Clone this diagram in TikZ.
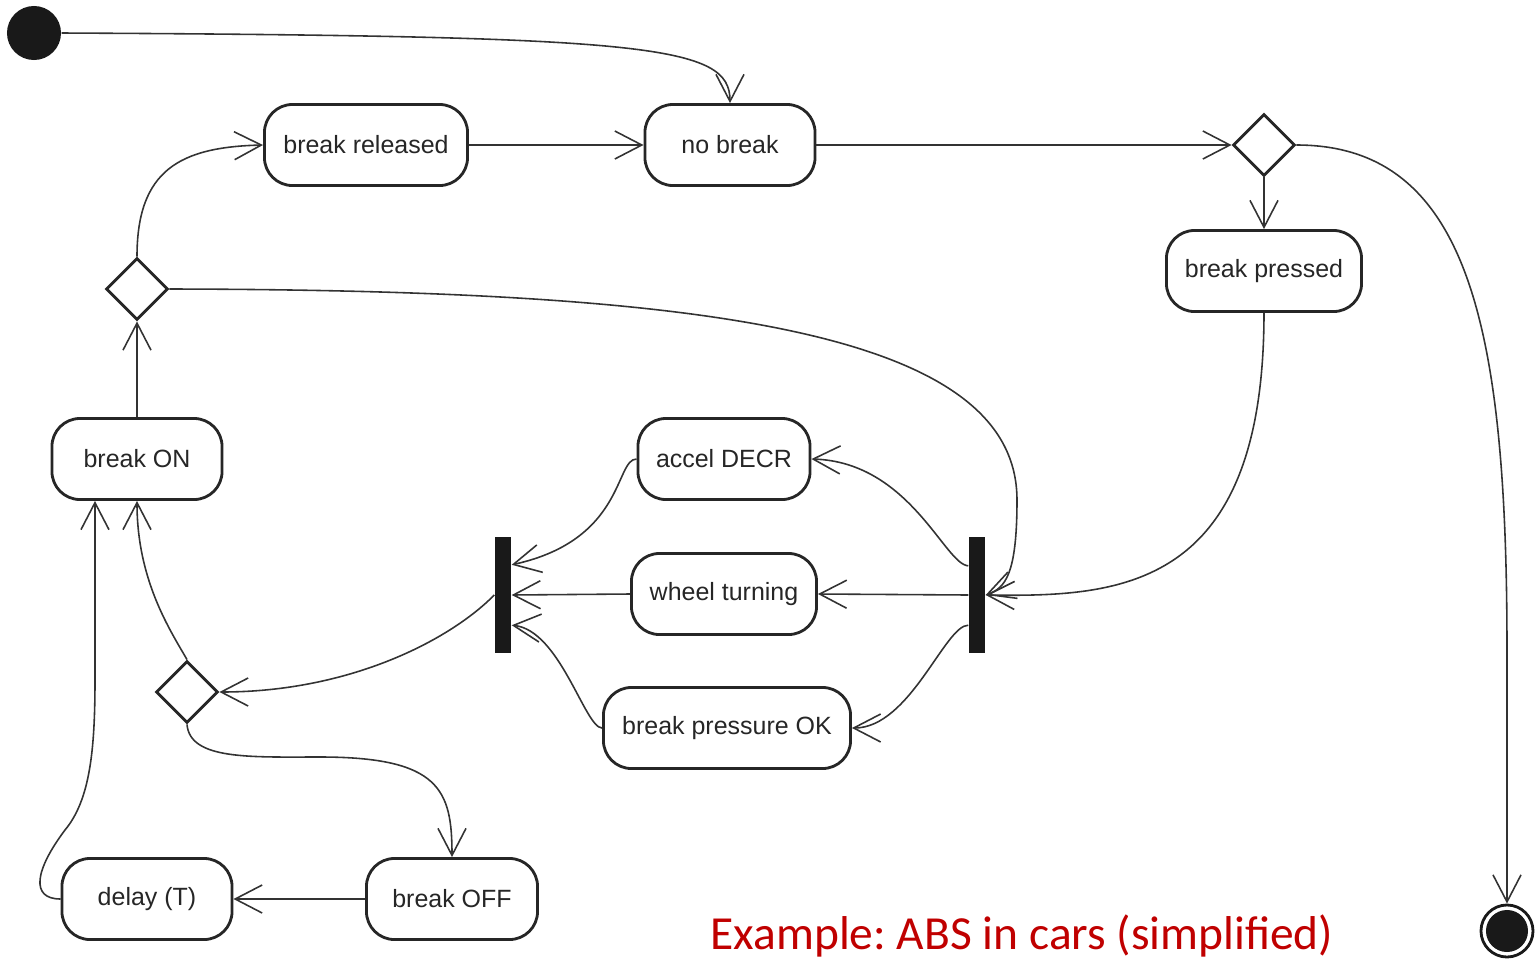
\documentclass[tikz,border=0pt]{standalone}
\usepackage{fontspec}
\setmainfont{Liberation Sans}
\newfontfamily\capfont{Carlito}
\usetikzlibrary{arrows.meta,shapes.geometric}
\definecolor{capred}{RGB}{192,0,0}

\begin{document}
\begin{tikzpicture}[x=0.01cm, y=-0.01cm,
  state/.style={draw=black!85, line width=0.8pt, rounded corners=0.28cm,
    minimum height=0.81cm, inner sep=0pt, text=black!85,
    font=\fontsize{7.1}{8}\selectfont},
  choice/.style={draw=black!85, line width=0.8pt, diamond, aspect=1,
    minimum size=0.62cm, inner sep=0pt},
  bar/.style={fill=black!90, minimum width=0.16cm, minimum height=1.15cm,
    inner sep=0pt},
  flow/.style={draw=black!80, line width=0.45pt,
    -{Straight Barb[length=0.27cm, width=0.28cm]}}]
  \useasboundingbox (0,0) rectangle (1538,960);
  \node [circle, fill=black!90, minimum size=0.54cm, inner sep=0pt] (init) at (34,33) {};
  \node [state, minimum width=2.03cm] (rel) at (366,145) {break released};
  \node [state, minimum width=1.70cm] (nob) at (730,145) {no break};
  \node [choice] (dec1) at (1264,145) {};
  \node [state, minimum width=1.95cm] (prs) at (1264,271) {break pressed};
  \node [choice] (dec2) at (137,289) {};
  \node [state, minimum width=1.70cm] (on) at (137,459) {break ON};
  \node [state, minimum width=1.72cm] (acc) at (724,459) {accel DECR};
  \node [state, minimum width=1.85cm] (whl) at (724,594) {wheel turning};
  \node [state, minimum width=2.47cm] (pok) at (727,728) {break pressure OK};
  \node [bar] (join) at (503,595) {};
  \node [bar] (fork) at (977,595) {};
  \node [choice] (dec3) at (187,692) {};
  \node [state, minimum width=1.71cm] (off) at (452,899) {break OFF};
  \node [state, minimum width=1.70cm] (dly) at (147,899) {delay (T)};
  \node [circle, draw=black!90, line width=0.8pt, minimum size=0.52cm, inner sep=0pt] (fin) at (1507,931) {};
  \fill [black!90] (fin.center) circle (0.21cm);
  \node [font=\capfont\fontsize{13.5}{16}\selectfont, text=capred] (cap) at (1022,936) {Example:\ ABS in cars (simplified)};

  \path []
  (rel.east) edge [flow] (nob.west)
  (nob.east) edge [flow] (dec1.west)
  (dec1.south) edge [flow] (prs.north)
  (on.north) edge [flow] (dec2.south)
  (fork.west) edge [flow] (whl.east)
  (whl.west) edge [flow] (join.east)
  (off.west) edge [flow] (dly.east);

  \draw [flow] (init.east) .. controls (650,36) and (730,45) .. (nob.north);
  \draw [flow] (dec2.north) .. controls (137,170) and (180,147) .. (rel.west);
  \draw [flow] (dec1.east) .. controls (1470,145) and (1507,330) .. (1507,650) -- (fin.north);
  \draw [flow] (prs.south) .. controls (1264,590) and (1120,597) .. (fork.east);
  \draw [flow] (dec2.east) .. controls (700,290) and (1017,330) .. (1017,500)
    .. controls (1017,575) and (1005,588) .. (fork.east);
  \draw [flow] ([yshift=-0.29cm]fork.north west) .. controls (945,565) and (910,462) .. (acc.east);
  \draw [flow] ([yshift=0.28cm]fork.south west) .. controls (945,625) and (910,728) .. (pok.east);
  \draw [flow] (acc.west) .. controls (615,459) and (625,540) .. ([yshift=-0.28cm]join.north east);
  \draw [flow] (pok.west) .. controls (585,728) and (560,630) .. ([yshift=0.28cm]join.south east);
  \draw [flow] (join.west) .. controls (450,640) and (350,692) .. (dec3.east);
  \draw [flow] (dec3.north) .. controls (170,630) and (137,580) .. (on.south);
  \draw [flow] (dec3.south) .. controls (190,760) and (250,757) .. (320,757)
    .. controls (440,757) and (452,790) .. (off.north);
  \draw [flow] (dly.west) .. controls (30,899) and (35,870) .. (65,830)
    .. controls (90,800) and (95,750) .. (95,680) -- ([xshift=-0.42cm]on.south);
\end{tikzpicture}
\end{document}
